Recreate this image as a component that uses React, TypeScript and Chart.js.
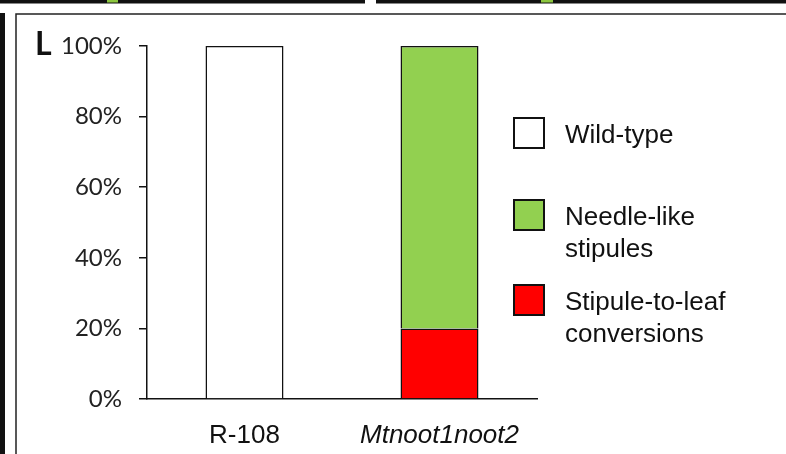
import React, { useEffect, useRef } from "react";
import { Chart, registerables } from "chart.js";

Chart.register(...registerables);

const categories = ["R-108", "Mtnoot1noot2"];
const wildType: (number | null)[] = [100, null];
const stipuleToLeaf: (number | null)[] = [null, 20];
const needleLike: (number | null)[] = [null, 80];
const yTicks = [0, 20, 40, 60, 80, 100];
const legendLines = [["Wild-type"], ["Needle-like", "stipules"], ["Stipule-to-leaf", "conversions"]];

const WHITE = "#FFFFFF";
const GREEN = "#92D050";
const RED = "#FF0000";

const decorPlugin = {
  id: "decor",
  beforeDraw(chart: any) {
    const ctx = chart.ctx;
    ctx.save();
    ctx.fillStyle = "#fff";
    ctx.fillRect(0, 0, chart.width, chart.height);
    // top strips from neighbouring panels
    ctx.fillStyle = "#111";
    ctx.fillRect(0, 0, 365, 3.5);
    ctx.fillRect(376, 0, 410, 3.5);
    ctx.fillStyle = "#8CC63F";
    ctx.fillRect(107, 0, 11, 2.5);
    ctx.fillRect(541, 0, 12, 2.5);
    // left black bar
    ctx.fillStyle = "#111";
    ctx.fillRect(0, 13, 5, chart.height - 13);
    // panel border
    ctx.strokeStyle = "#222";
    ctx.lineWidth = 1.5;
    ctx.beginPath();
    ctx.moveTo(16, chart.height);
    ctx.lineTo(16, 14);
    ctx.lineTo(chart.width, 14);
    ctx.stroke();
    // panel letter
    ctx.fillStyle = "#111";
    ctx.font = "bold 32px Lato, 'Open Sans', sans-serif";
    ctx.textBaseline = "alphabetic";
    ctx.textAlign = "left";
    ctx.fillText("L", 35, 55);
    ctx.restore();
  },
  afterDraw(chart: any) {
    const ctx = chart.ctx;
    ctx.save();
    const order = [0, 2, 1]; // dataset indices: wild-type, needle-like, stipule-to-leaf
    const boxTops = [118, 200, 285];
    const baselines = [[143], [225, 257], [310, 342]];
    order.forEach((dsIndex, i) => {
      const ds = chart.data.datasets[dsIndex];
      ctx.fillStyle = ds.backgroundColor;
      ctx.strokeStyle = "#111";
      ctx.lineWidth = 2;
      ctx.fillRect(514, boxTops[i], 30, 30);
      ctx.strokeRect(514, boxTops[i], 30, 30);
      ctx.fillStyle = "#111";
      ctx.font = "26px 'Liberation Sans', Arial, sans-serif";
      ctx.textAlign = "left";
      ctx.textBaseline = "alphabetic";
      legendLines[i].forEach((line, j) => {
        ctx.fillText(line, 565, baselines[i][j]);
      });
    });
    ctx.restore();
  },
};

export default function App() {
  const canvasRef = useRef<HTMLCanvasElement | null>(null);

  useEffect(() => {
    if (!canvasRef.current) return;
    const chart = new Chart(canvasRef.current, {
      type: "bar",
      data: {
        labels: categories,
        datasets: [
          {
            label: "Wild-type",
            data: wildType,
            backgroundColor: WHITE,
            borderColor: "#111",
            borderWidth: 1.5,
          },
          {
            label: "Stipule-to-leaf conversions",
            data: stipuleToLeaf,
            backgroundColor: RED,
            borderColor: "#111",
            borderWidth: 1.5,
          },
          {
            label: "Needle-like stipules",
            data: needleLike,
            backgroundColor: GREEN,
            borderColor: "#111",
            borderWidth: 1.5,
          },
        ],
      },
      options: {
        animation: false,
        responsive: false,
        devicePixelRatio: 1,
        layout: { padding: { left: 0, top: 46, right: 249, bottom: 0 } },
        plugins: {
          legend: { display: false },
          tooltip: { enabled: false },
        },
        datasets: {
          bar: { barPercentage: 0.4, categoryPercentage: 1 },
        },
        scales: {
          x: {
            stacked: true,
            grid: { display: false, drawTicks: false },
            border: { display: true, color: "#111", width: 1.5 },
            ticks: {
              color: "#111",
              padding: 21,
              maxRotation: 0,
              font: (c: any) => ({
                family: "'Liberation Sans', Arial, sans-serif",
                size: 26,
                style: c.index === 1 ? "italic" : "normal",
              }),
            },
            afterFit: (scale: any) => {
              scale.height = 55;
            },
          },
          y: {
            stacked: true,
            min: 0,
            max: 100,
            afterBuildTicks: (scale: any) => {
              scale.ticks = yTicks.map((v) => ({ value: v }));
            },
            grid: {
              drawOnChartArea: false,
              drawTicks: true,
              tickLength: 8,
              color: "#111",
              lineWidth: 1.5,
            },
            border: { display: true, color: "#111", width: 1.5 },
            ticks: {
              color: "#222",
              padding: 17,
              font: { family: "Lato, 'Open Sans', sans-serif", size: 24 },
              callback: (v: any) => v + "%",
            },
            afterFit: (scale: any) => {
              scale.width = 147;
            },
          },
        },
      },
      plugins: [decorPlugin],
    });
    return () => chart.destroy();
  }, []);

  return (
    <div style={{ position: "fixed", left: 0, top: 0, width: 786, height: 454, background: "#fff" }}>
      <canvas ref={canvasRef} width={786} height={454} style={{ width: 786, height: 454, display: "block" }} />
    </div>
  );
}
